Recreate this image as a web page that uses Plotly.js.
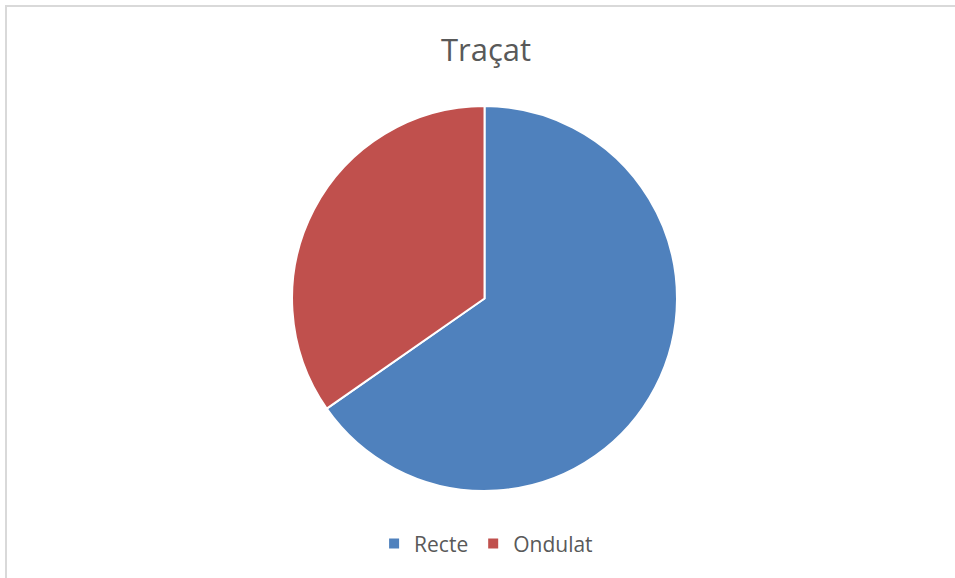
<!DOCTYPE html>
<html>
<head>
<meta charset="utf-8">
<script src="https://cdn.plot.ly/plotly-3.0.1.min.js"></script>
<style>
  html, body { margin: 0; padding: 0; background: #fff; overflow: hidden; }
  #frame {
    position: absolute; left: 5px; top: 5px;
    width: 960px; height: 580px;
    border-left: 2px solid #d9d9d9; border-top: 2px solid #d9d9d9;
  }
  #chart { position: absolute; left: 0; top: 0; width: 955px; height: 578px; }
</style>
</head>
<body>
<div id="frame"></div>
<div id="chart"></div>
<script>
// data
const categories = ['Recte', 'Ondulat'];
const values = [65.3, 34.7];
const colors = ['#4F81BD', '#C0504D'];

const trace = {
    type: 'pie',
    labels: categories,
    values: values,
    sort: false,
    direction: 'clockwise',
    rotation: 0,
    textinfo: 'none',
    hoverinfo: 'label+percent',
    marker: { colors: colors, line: { color: '#ffffff', width: 2 } },
    domain: { x: [0.3058, 0.7089], y: [0.1488, 0.8183] }
};

const layout = {
    width: 955,
    height: 578,
    margin: { l: 0, r: 0, t: 0, b: 0 },
    paper_bgcolor: 'rgba(0,0,0,0)',
    plot_bgcolor: 'rgba(0,0,0,0)',
    font: { family: 'Open Sans, sans-serif', color: '#595959' },
    title: {
        text: 'Traçat',
        font: { size: 31, color: '#595959' },
        x: 0.509, xanchor: 'center',
        y: 0.913, yanchor: 'middle'
    },
    showlegend: true,
    legend: {
        orientation: 'h',
        x: 0.509, xanchor: 'center',
        y: 0.059, yanchor: 'middle',
        font: { size: 21, color: '#595959' },
        itemclick: false
    }
};

Plotly.newPlot('chart', [trace], layout, { displayModeBar: false, staticPlot: true });
</script>
</body>
</html>
